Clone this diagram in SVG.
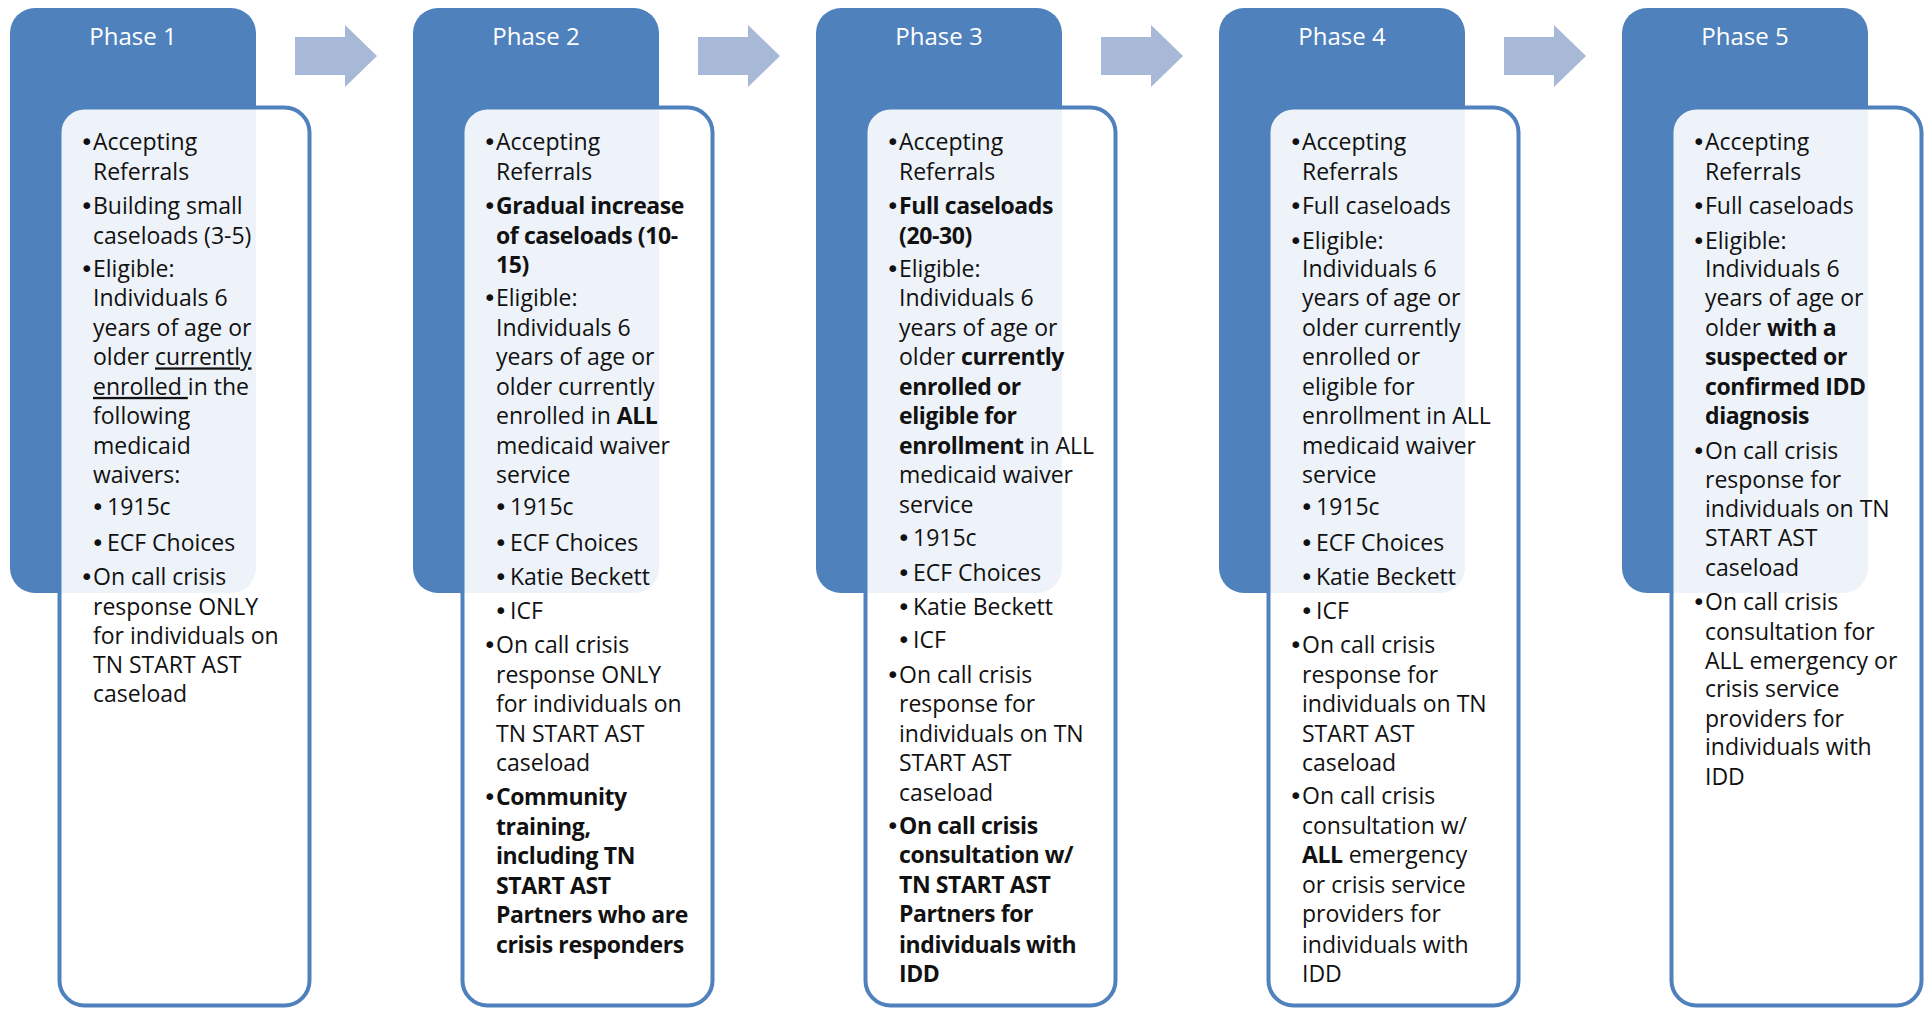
<svg xmlns="http://www.w3.org/2000/svg" width="1927" height="1010" viewBox="0 0 1927 1010">
<style>
.tab{fill:#4f81bd}
.box{fill:#ffffff;fill-opacity:0.9;stroke:#4f81bd;stroke-width:4}
.ttl{font-family:"Open Sans","Liberation Sans",sans-serif;font-size:24px;fill:#ffffff;text-anchor:middle}
text{font-family:"Open Sans","Liberation Sans",sans-serif;font-size:23px;fill:#111111}
.b{font-weight:bold;letter-spacing:-0.4px}
.u{text-decoration:underline}
.bl{font-family:"DejaVu Sans",sans-serif;font-size:23px}
.arr{fill:#a7b9d7}
</style>
<rect width="1927" height="1010" fill="#ffffff"/>
<g id="connectors">
<polygon class="arr" points="295,37 345,37 345,25 377,56 345,87 345,75 295,75"/>
<polygon class="arr" points="698,37 748,37 748,25 780,56 748,87 748,75 698,75"/>
<polygon class="arr" points="1101,37 1151,37 1151,25 1183,56 1151,87 1151,75 1101,75"/>
<polygon class="arr" points="1504,37 1554,37 1554,25 1586,56 1554,87 1554,75 1504,75"/>
</g>
<g id="phase1" transform="translate(10,0)">
<rect class="tab" x="0" y="8" width="246" height="585" rx="25"/>
<rect class="box" x="49.5" y="107.5" width="250" height="898" rx="25"/>
<text class="ttl" x="123" y="45">Phase 1</text>
<text x="70" y="150.3"><tspan class="bl">•</tspan><tspan x="83">Accepting</tspan></text>
<text x="83" y="179.8">Referrals</text>
<text x="70" y="214.2"><tspan class="bl">•</tspan><tspan x="83">Building small</tspan></text>
<text x="83" y="243.7">caseloads (3-5)</text>
<text x="70" y="276.9"><tspan class="bl">•</tspan><tspan x="83">Eligible:</tspan></text>
<text x="83" y="306.4">Individuals 6</text>
<text x="83" y="335.9">years of age or</text>
<text x="83" y="365.4">older <tspan class="u">currently</tspan></text>
<text x="83" y="394.9"><tspan class="u">enrolled </tspan>in the</text>
<text x="83" y="424.4">following</text>
<text x="83" y="453.9">medicaid</text>
<text x="83" y="483.4">waivers:</text>
<text x="81" y="515.3"><tspan class="bl">•</tspan><tspan x="97">1915c</tspan></text>
<text x="81" y="551"><tspan class="bl">•</tspan><tspan x="97">ECF Choices</tspan></text>
<text x="70" y="585.4"><tspan class="bl">•</tspan><tspan x="83">On call crisis</tspan></text>
<text x="83" y="614.9">response ONLY</text>
<text x="83" y="644.4">for individuals on</text>
<text x="83" y="672.7">TN START AST</text>
<text x="83" y="702.2">caseload</text>
</g>
<g id="phase2" transform="translate(413,0)">
<rect class="tab" x="0" y="8" width="246" height="585" rx="25"/>
<rect class="box" x="49.5" y="107.5" width="250" height="898" rx="25"/>
<text class="ttl" x="123" y="45">Phase 2</text>
<text x="70" y="150.3"><tspan class="bl">•</tspan><tspan x="83">Accepting</tspan></text>
<text x="83" y="179.8">Referrals</text>
<text x="70" y="214.2"><tspan class="bl">•</tspan><tspan x="83" class="b">Gradual increase</tspan></text>
<text class="b" x="83" y="243.7">of caseloads (10-</text>
<text class="b" x="83" y="273.2">15)</text>
<text x="70" y="306.4"><tspan class="bl">•</tspan><tspan x="83">Eligible:</tspan></text>
<text x="83" y="335.9">Individuals 6</text>
<text x="83" y="365.4">years of age or</text>
<text x="83" y="394.9">older currently</text>
<text x="83" y="424.4">enrolled in <tspan class="b">ALL</tspan></text>
<text x="83" y="453.9">medicaid waiver</text>
<text x="83" y="483.4">service</text>
<text x="81" y="515.3"><tspan class="bl">•</tspan><tspan x="97">1915c</tspan></text>
<text x="81" y="551"><tspan class="bl">•</tspan><tspan x="97">ECF Choices</tspan></text>
<text x="81" y="585.4"><tspan class="bl">•</tspan><tspan x="97">Katie Beckett</tspan></text>
<text x="81" y="618.6"><tspan class="bl">•</tspan><tspan x="97">ICF</tspan></text>
<text x="70" y="653"><tspan class="bl">•</tspan><tspan x="83">On call crisis</tspan></text>
<text x="83" y="682.5">response ONLY</text>
<text x="83" y="712">for individuals on</text>
<text x="83" y="741.5">TN START AST</text>
<text x="83" y="771">caseload</text>
<text x="70" y="805.4"><tspan class="bl">•</tspan><tspan x="83" class="b">Community</tspan></text>
<text class="b" x="83" y="834.9">training,</text>
<text class="b" x="83" y="864.4">including TN</text>
<text class="b" x="83" y="893.9">START AST</text>
<text class="b" x="83" y="923.4">Partners who are</text>
<text class="b" x="83" y="952.9">crisis responders</text>
</g>
<g id="phase3" transform="translate(816,0)">
<rect class="tab" x="0" y="8" width="246" height="585" rx="25"/>
<rect class="box" x="49.5" y="107.5" width="250" height="898" rx="25"/>
<text class="ttl" x="123" y="45">Phase 3</text>
<text x="70" y="150.3"><tspan class="bl">•</tspan><tspan x="83">Accepting</tspan></text>
<text x="83" y="179.8">Referrals</text>
<text x="70" y="214.2"><tspan class="bl">•</tspan><tspan x="83" class="b">Full caseloads</tspan></text>
<text class="b" x="83" y="243.7">(20-30)</text>
<text x="70" y="276.9"><tspan class="bl">•</tspan><tspan x="83">Eligible:</tspan></text>
<text x="83" y="306.4">Individuals 6</text>
<text x="83" y="335.9">years of age or</text>
<text x="83" y="365.4">older <tspan class="b">currently</tspan></text>
<text class="b" x="83" y="394.9">enrolled or</text>
<text class="b" x="83" y="424.4">eligible for</text>
<text x="83" y="453.9"><tspan class="b">enrollment</tspan> in ALL</text>
<text x="83" y="483.4">medicaid waiver</text>
<text x="83" y="512.9">service</text>
<text x="81" y="546.1"><tspan class="bl">•</tspan><tspan x="97">1915c</tspan></text>
<text x="81" y="580.5"><tspan class="bl">•</tspan><tspan x="97">ECF Choices</tspan></text>
<text x="81" y="614.9"><tspan class="bl">•</tspan><tspan x="97">Katie Beckett</tspan></text>
<text x="81" y="648.1"><tspan class="bl">•</tspan><tspan x="97">ICF</tspan></text>
<text x="70" y="682.5"><tspan class="bl">•</tspan><tspan x="83">On call crisis</tspan></text>
<text x="83" y="712">response for</text>
<text x="83" y="741.5">individuals on TN</text>
<text x="83" y="771">START AST</text>
<text x="83" y="800.5">caseload</text>
<text x="70" y="833.7"><tspan class="bl">•</tspan><tspan x="83" class="b">On call crisis</tspan></text>
<text class="b" x="83" y="863.2">consultation w/</text>
<text class="b" x="83" y="892.7">TN START AST</text>
<text class="b" x="83" y="922.1">Partners for</text>
<text class="b" x="83" y="952.9">individuals with</text>
<text class="b" x="83" y="982.4">IDD</text>
</g>
<g id="phase4" transform="translate(1219,0)">
<rect class="tab" x="0" y="8" width="246" height="585" rx="25"/>
<rect class="box" x="49.5" y="107.5" width="250" height="898" rx="25"/>
<text class="ttl" x="123" y="45">Phase 4</text>
<text x="70" y="150.3"><tspan class="bl">•</tspan><tspan x="83">Accepting</tspan></text>
<text x="83" y="179.8">Referrals</text>
<text x="70" y="214.2"><tspan class="bl">•</tspan><tspan x="83">Full caseloads</tspan></text>
<text x="70" y="248.7"><tspan class="bl">•</tspan><tspan x="83">Eligible:</tspan></text>
<text x="83" y="276.9">Individuals 6</text>
<text x="83" y="306.4">years of age or</text>
<text x="83" y="335.9">older currently</text>
<text x="83" y="365.4">enrolled or</text>
<text x="83" y="394.9">eligible for</text>
<text x="83" y="424.4">enrollment in ALL</text>
<text x="83" y="453.9">medicaid waiver</text>
<text x="83" y="483.4">service</text>
<text x="81" y="515.3"><tspan class="bl">•</tspan><tspan x="97">1915c</tspan></text>
<text x="81" y="551"><tspan class="bl">•</tspan><tspan x="97">ECF Choices</tspan></text>
<text x="81" y="585.4"><tspan class="bl">•</tspan><tspan x="97">Katie Beckett</tspan></text>
<text x="81" y="618.6"><tspan class="bl">•</tspan><tspan x="97">ICF</tspan></text>
<text x="70" y="653"><tspan class="bl">•</tspan><tspan x="83">On call crisis</tspan></text>
<text x="83" y="682.5">response for</text>
<text x="83" y="712">individuals on TN</text>
<text x="83" y="741.5">START AST</text>
<text x="83" y="771">caseload</text>
<text x="70" y="804.2"><tspan class="bl">•</tspan><tspan x="83">On call crisis</tspan></text>
<text x="83" y="833.7">consultation w/</text>
<text x="83" y="863.2"><tspan class="b">ALL</tspan> emergency</text>
<text x="83" y="892.7">or crisis service</text>
<text x="83" y="922.1">providers for</text>
<text x="83" y="952.9">individuals with</text>
<text x="83" y="982.4">IDD</text>
</g>
<g id="phase5" transform="translate(1622,0)">
<rect class="tab" x="0" y="8" width="246" height="585" rx="25"/>
<rect class="box" x="49.5" y="107.5" width="250" height="898" rx="25"/>
<text class="ttl" x="123" y="45">Phase 5</text>
<text x="70" y="150.3"><tspan class="bl">•</tspan><tspan x="83">Accepting</tspan></text>
<text x="83" y="179.8">Referrals</text>
<text x="70" y="214.2"><tspan class="bl">•</tspan><tspan x="83">Full caseloads</tspan></text>
<text x="70" y="248.7"><tspan class="bl">•</tspan><tspan x="83">Eligible:</tspan></text>
<text x="83" y="276.9">Individuals 6</text>
<text x="83" y="306.4">years of age or</text>
<text x="83" y="335.9">older <tspan class="b">with a</tspan></text>
<text class="b" x="83" y="365.4">suspected or</text>
<text class="b" x="83" y="394.9">confirmed IDD</text>
<text class="b" x="83" y="424.4">diagnosis</text>
<text x="70" y="458.8"><tspan class="bl">•</tspan><tspan x="83">On call crisis</tspan></text>
<text x="83" y="488.3">response for</text>
<text x="83" y="516.6">individuals on TN</text>
<text x="83" y="546.1">START AST</text>
<text x="83" y="575.6">caseload</text>
<text x="70" y="610"><tspan class="bl">•</tspan><tspan x="83">On call crisis</tspan></text>
<text x="83" y="639.5">consultation for</text>
<text x="83" y="669">ALL emergency or</text>
<text x="83" y="697.2">crisis service</text>
<text x="83" y="726.7">providers for</text>
<text x="83" y="755">individuals with</text>
<text x="83" y="784.5">IDD</text>
</g>
</svg>
